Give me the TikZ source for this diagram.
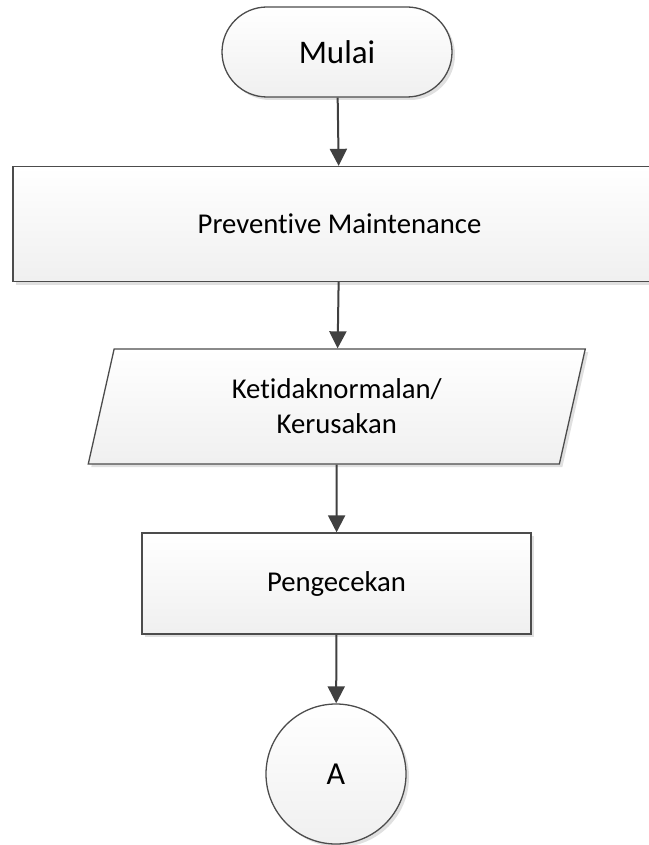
\documentclass[tikz,border=0pt]{standalone}
\usepackage{fontspec}
\setmainfont[Ligatures=NoCommon]{Carlito}
\usetikzlibrary{shapes.misc,shapes.geometric,shadows,arrows.meta}

\tikzset{
  box/.style={draw=black!70,line width=1.3pt,top color=white,bottom color=black!6,
    drop shadow={shadow xshift=3pt,shadow yshift=-3pt,fill=black!12,opacity=1},
    font=\fontsize{28.7}{35}\selectfont,align=center,inner sep=0pt},
  flow/.style={-{Triangle[width=17pt,length=17pt]},draw=black!75,line width=2pt}
}

\begin{document}
\begin{tikzpicture}[x=1pt,y=-1pt]
		\useasboundingbox (0,0) rectangle (648,845);
		\node[box,rounded rectangle,minimum width=230pt,minimum height=90pt,font=\fontsize{33}{40}\selectfont](mulai) at (337,52) {Mulai};
		\node[box,rectangle,minimum width=653pt,minimum height=115pt](pm) at (339.5,224) {Preventive Maintenance};
		\node[box,trapezium,trapezium left angle=64.85,trapezium right angle=115.15,trapezium stretches body,minimum width=497pt,minimum height=115pt](ket) at (336.75,406.5) {Ketidaknormalan/\\Kerusakan};
		\node[box,rectangle,minimum width=389pt,minimum height=101pt](pg) at (336.5,583.5) {Pengecekan};
		\node[box,circle,minimum size=140pt,font=\fontsize{32}{38}\selectfont](a) at (336,774) {A};
		\draw[flow] (mulai)--(pm);
		\draw[flow] (pm)--(ket);
		\draw[flow] (ket)--(pg);
		\draw[flow] (pg)--(a);
	\end{tikzpicture}
\end{document}
